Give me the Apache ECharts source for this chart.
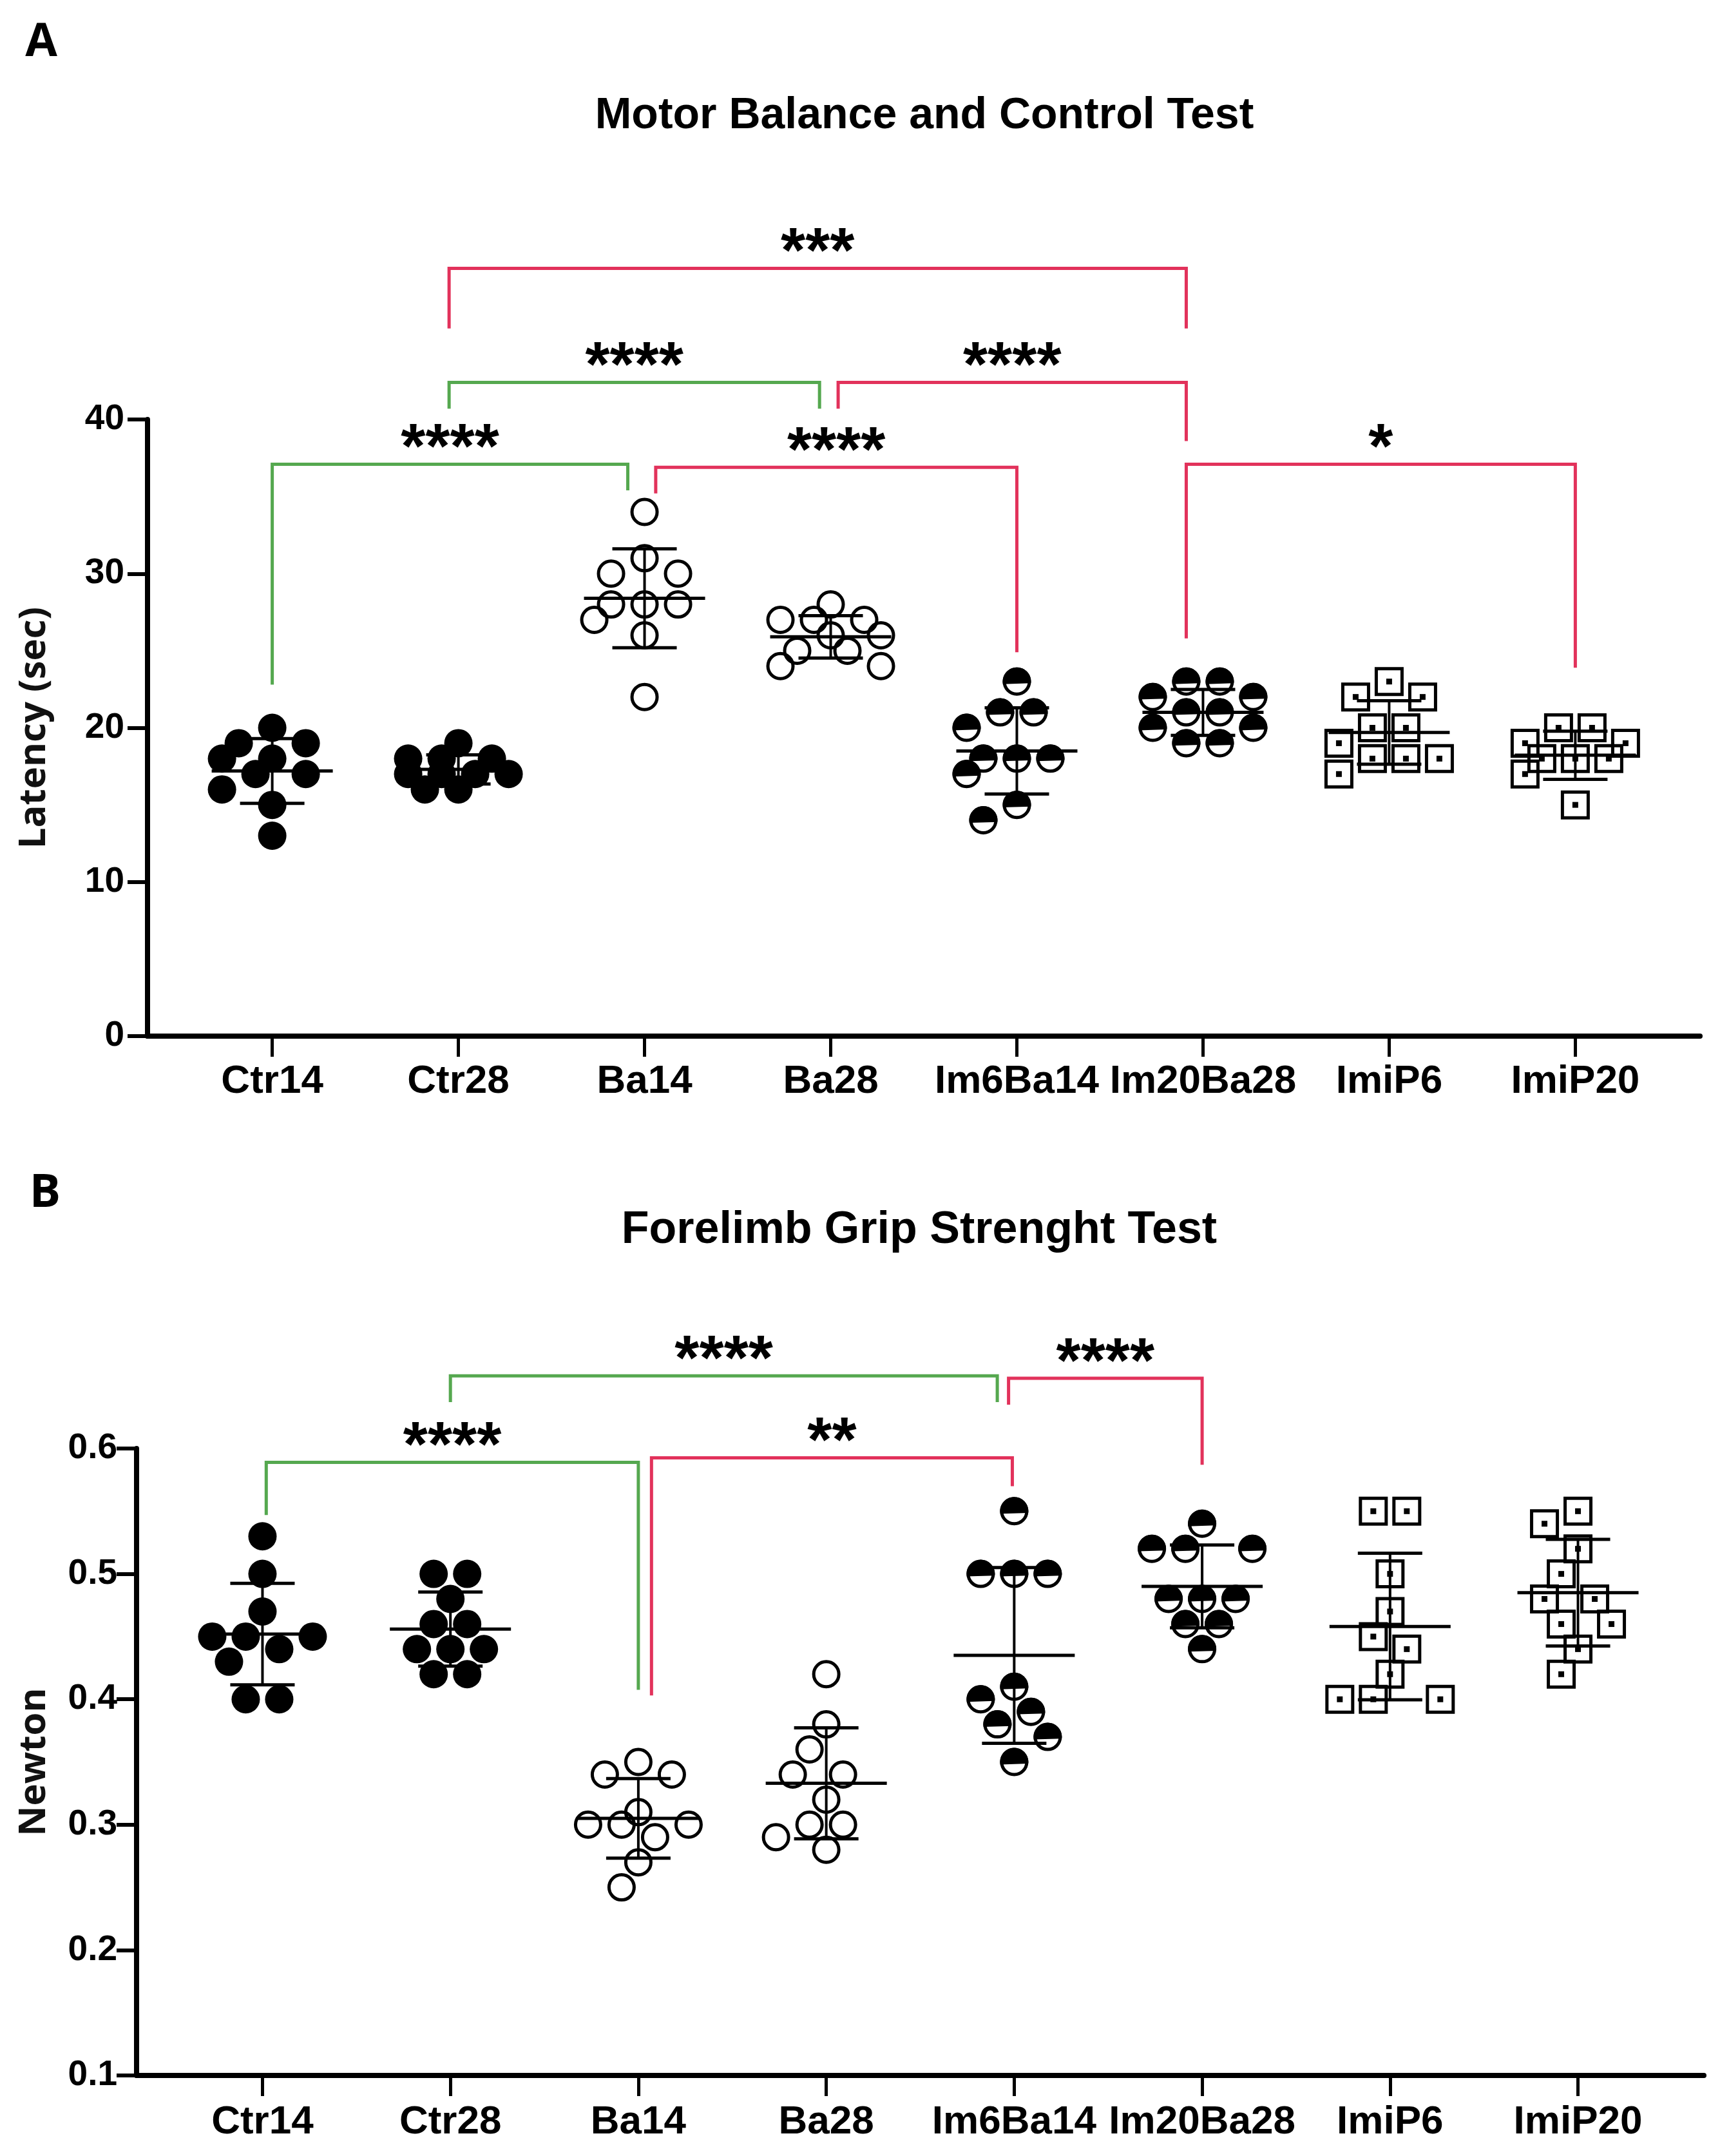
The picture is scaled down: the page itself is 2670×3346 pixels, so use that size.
<!DOCTYPE html>
<html>
<head>
<meta charset="utf-8">
<script src="https://cdn.jsdelivr.net/npm/echarts@6/dist/echarts.min.js"></script>
<style>
html,body{margin:0;padding:0;background:#fff;}
#chart{width:2670px;height:3346px;}
</style>
</head>
<body>
<div id="chart"></div>
<script>
// ---------------- DATA ----------------
const categories = ['Ctr14', 'Ctr28', 'Ba14', 'Ba28', 'Im6Ba14', 'Im20Ba28', 'ImiP6', 'ImiP20'];
const markerKinds = ['filled', 'filled', 'open', 'open', 'half', 'half', 'square', 'square'];

// Panel A: Motor Balance and Control Test, latency (sec)
const ctr14A    = [20, 19, 19, 18, 18, 17, 17, 16, 15, 13];
const ctr28A    = [19, 18, 18, 18, 17, 17, 17, 17, 16, 16];
const ba14A     = [34, 31, 30, 30, 28, 28, 28, 27, 26, 22];
const ba28A     = [28, 27, 27, 27, 26, 26, 25, 25, 24, 24];
const im6ba14A  = [23, 21, 21, 20, 18, 18, 18, 17, 15, 14];
const im20ba28A = [23, 23, 22, 22, 21, 21, 20, 20, 19, 19];
const imip6A    = [23, 22, 22, 20, 20, 19, 18, 18, 18, 17];
const imip20A   = [20, 20, 19, 19, 18, 18, 18, 17, 15];
const latencyTicks = [0, 10, 20, 30, 40];

// Panel B: Forelimb Grip Strenght Test, Newton
const ctr14B    = [0.53, 0.50, 0.47, 0.45, 0.45, 0.45, 0.44, 0.43, 0.40, 0.40];
const ctr28B    = [0.50, 0.50, 0.48, 0.46, 0.46, 0.44, 0.44, 0.44, 0.42, 0.42];
const ba14B     = [0.35, 0.34, 0.34, 0.31, 0.30, 0.30, 0.30, 0.29, 0.27, 0.25];
const ba28B     = [0.42, 0.38, 0.36, 0.34, 0.34, 0.32, 0.30, 0.30, 0.29, 0.28];
const im6ba14B  = [0.55, 0.50, 0.50, 0.50, 0.41, 0.40, 0.39, 0.38, 0.37, 0.35];
const im20ba28B = [0.54, 0.52, 0.52, 0.52, 0.48, 0.48, 0.48, 0.46, 0.46, 0.44];
const imip6B    = [0.55, 0.55, 0.50, 0.47, 0.45, 0.44, 0.42, 0.40, 0.40, 0.40];
const imip20B   = [0.55, 0.54, 0.52, 0.50, 0.48, 0.48, 0.46, 0.46, 0.44, 0.42];
const newtonTicks = [0.1, 0.2, 0.3, 0.4, 0.5, 0.6];

// Significance brackets: [fromX, toX, topY, leftLegEndY, rightLegEndY, label, colour]
const bracketsA = [
  [1.95, 5.91, 49.8, 45.9, 45.9, '***', 'red'],
  [1.95, 3.94, 42.4, 40.7, 40.7, '****', 'green'],
  [4.04, 5.91, 42.4, 40.7, 38.6, '****', 'red'],
  [1.00, 2.91, 37.1, 22.8, 35.4, '****', 'green'],
  [3.06, 5.00, 36.9, 35.2, 24.9, '****', 'red'],
  [5.91, 8.00, 37.1, 25.8, 23.9, '*', 'red']
];
const bracketsB = [
  [2.00, 4.91, 0.658, 0.637, 0.637, '****', 'green'],
  [4.97, 6.00, 0.656, 0.635, 0.587, '****', 'red'],
  [1.02, 3.00, 0.589, 0.547, 0.4075, '****', 'green'],
  [3.07, 4.99, 0.5925, 0.403, 0.570, '**', 'red']
];

// ---------------- LAYOUT / STYLE ----------------
const COLORS = { red: '#e2325b', green: '#55a84f' };
const gridA = { left: 229, right: 31, top: 651, bottom: 1738 };
const gridB = { left: 212, right: 25, top: 2248, bottom: 125 };
const xMin = 0.33, xMax = 8.67;
const pxPerUnitA = (3346 - gridA.top - gridA.bottom) / (latencyTicks[latencyTicks.length - 1] - latencyTicks[0]);
const pxPerUnitB = (3346 - gridB.top - gridB.bottom) / (newtonTicks[newtonTicks.length - 1] - newtonTicks[0]);
const R = 22;

// --------------- helpers ---------------
function mean(a) { return a.reduce((s, v) => s + v, 0) / a.length; }
function sd(a) { const m = mean(a); return Math.sqrt(a.reduce((s, v) => s + (v - m) * (v - m), 0) / (a.length - 1)); }

// row-based dot-plot spreading (horizontal pixel offsets)
function swarmOffsets(vals, ppu) {
  const slots = [-78, -52, -26, 0, 26, 52, 78];
  const uniq = Array.from(new Set(vals)).sort((a, b) => b - a);
  const placed = [];
  const offs = new Array(vals.length).fill(0);
  for (const v of uniq) {
    const idx = [];
    vals.forEach((u, i) => { if (u === v) idx.push(i); });
    const n = idx.length;
    const y = -v * ppu;
    const combos = [];
    (function rec(start, cur) {
      if (cur.length === n) { combos.push(cur.slice()); return; }
      for (let k = start; k < slots.length; k++) {
        if (cur.length && slots[k] - cur[cur.length - 1] < 48) continue;
        cur.push(slots[k]); rec(k + 1, cur); cur.pop();
      }
    })(0, []);
    let best = null, bestCost = Infinity;
    for (const c of combos) {
      let cost = 0;
      for (const x of c) {
        for (const p of placed) {
          const d = Math.hypot(x - p.x, y - p.y);
          if (d < 48) cost += (48 - d) * (48 - d);
        }
        cost += 0.3 * Math.abs(x);
      }
      cost += 0.3 * Math.abs(c.reduce((s, x) => s + x, 0));
      if (cost < bestCost) { bestCost = cost; best = c; }
    }
    if (!best) best = idx.map((_, i) => (i - (n - 1) / 2) * 40);
    best.forEach((x, i) => { offs[idx[i]] = x; placed.push({ x: x, y: y }); });
  }
  return offs;
}

function buildPoints(groups, ppu) {
  const out = [];
  groups.forEach((vals, g) => {
    const offs = swarmOffsets(vals, ppu);
    vals.forEach((v, i) => out.push([g + 1, v, offs[i], g]));
  });
  return out;
}
function buildStats(groups) {
  return groups.map((vals, g) => [g + 1, mean(vals), sd(vals)]);
}

const groupsA = [ctr14A, ctr28A, ba14A, ba28A, im6ba14A, im20ba28A, imip6A, imip20A];
const groupsB = [ctr14B, ctr28B, ba14B, ba28B, im6ba14B, im20ba28B, imip6B, imip20B];

// --------------- renderers ---------------
function renderPoint(params, api) {
  const c = api.coord([api.value(0), api.value(1)]);
  const cx = c[0] + api.value(2), cy = c[1];
  const kind = markerKinds[api.value(3)];
  if (kind === 'filled') {
    return { type: 'circle', shape: { cx: cx, cy: cy, r: R }, style: { fill: '#000' } };
  }
  if (kind === 'open') {
    return { type: 'circle', shape: { cx: cx, cy: cy, r: R - 2.5 }, style: { fill: 'none', stroke: '#000', lineWidth: 5 } };
  }
  if (kind === 'half') {
    const pts = [];
    const beta = 0.18;
    for (let t = Math.PI - beta; t <= 2 * Math.PI + beta + 1e-6; t += 0.08) {
      pts.push([cx + R * Math.cos(t), cy + R * Math.sin(t)]);
    }
    return {
      type: 'group', children: [
        { type: 'circle', shape: { cx: cx, cy: cy, r: R - 2.5 }, style: { fill: 'none', stroke: '#000', lineWidth: 5 } },
        { type: 'polygon', shape: { points: pts }, style: { fill: '#000' } }
      ]
    };
  }
  // square with centre dot
  const s = 40;
  return {
    type: 'group', children: [
      { type: 'rect', shape: { x: cx - s / 2, y: cy - s / 2, width: s, height: s }, style: { fill: 'none', stroke: '#000', lineWidth: 5 } },
      { type: 'rect', shape: { x: cx - 4.5, y: cy - 4.5, width: 9, height: 9 }, style: { fill: '#000' } }
    ]
  };
}

function renderErr(params, api) {
  const x = api.value(0), m = api.value(1), s = api.value(2);
  const pm = api.coord([x, m]);
  const pt = api.coord([x, m + s]);
  const pb = api.coord([x, m - s]);
  const st = { stroke: '#000', lineWidth: 5 };
  return {
    type: 'group', children: [
      { type: 'line', shape: { x1: pm[0] - 94, y1: pm[1], x2: pm[0] + 94, y2: pm[1] }, style: st },
      { type: 'line', shape: { x1: pt[0] - 50, y1: pt[1], x2: pt[0] + 50, y2: pt[1] }, style: st },
      { type: 'line', shape: { x1: pb[0] - 50, y1: pb[1], x2: pb[0] + 50, y2: pb[1] }, style: st },
      { type: 'line', shape: { x1: pt[0], y1: pt[1], x2: pb[0], y2: pb[1] }, style: { stroke: '#000', lineWidth: 4 } }
    ]
  };
}

function makeBracketRenderer(list) {
  return function (params, api) {
    const b = list[params.dataIndex];
    const a1 = api.coord([b[0], b[3]]);
    const t1 = api.coord([b[0], b[2]]);
    const t2 = api.coord([b[1], b[2]]);
    const a2 = api.coord([b[1], b[4]]);
    const fs = 98;
    return {
      type: 'group', children: [
        { type: 'polyline', shape: { points: [a1, t1, t2, a2] }, style: { stroke: COLORS[b[6]], lineWidth: 5, fill: 'none' } },
        { type: 'text', style: { text: b[5], x: (t1[0] + t2[0]) / 2, y: t1[1] - 48 + 0.27 * fs, textAlign: 'center', textVerticalAlign: 'middle', fontSize: fs, fontWeight: 'bold', fontFamily: 'Liberation Sans', fill: '#000' } }
      ]
    };
  };
}

function xAxisCfg(gridIndex, labelMargin) {
  return {
    type: 'value', gridIndex: gridIndex, min: xMin, max: xMax,
    axisLine: { show: true, onZero: false, lineStyle: { color: '#000', width: 8 } },
    axisTick: { show: true, customValues: [1, 2, 3, 4, 5, 6, 7, 8], length: 32, lineStyle: { color: '#000', width: 5 } },
    axisLabel: {
      customValues: [1, 2, 3, 4, 5, 6, 7, 8], margin: labelMargin,
      formatter: v => categories[Math.round(v) - 1] || '',
      color: '#000', fontSize: 62, fontWeight: 'bold', fontFamily: 'Liberation Sans'
    },
    splitLine: { show: false }
  };
}
function yAxisCfg(gridIndex, ticks, name, nameGap, labelMargin, fmt) {
  return {
    type: 'value', gridIndex: gridIndex,
    min: ticks[0], max: ticks[ticks.length - 1], interval: ticks[1] - ticks[0],
    name: name, nameLocation: 'middle', nameRotate: 90, nameGap: nameGap,
    nameTextStyle: { color: '#111', fontSize: 58, fontWeight: 'bold', fontFamily: 'Open Sans' },
    axisLine: { show: true, onZero: false, lineStyle: { color: '#000', width: 8 } },
    axisTick: { show: true, length: 31, lineStyle: { color: '#000', width: 6 } },
    axisLabel: { margin: labelMargin, color: '#000', fontSize: 55, fontWeight: 'bold', fontFamily: 'Liberation Sans', formatter: fmt },
    splitLine: { show: false }
  };
}

const chart = echarts.init(document.getElementById('chart'), null, { renderer: 'canvas', width: 2670, height: 3346 });

const option = {
  backgroundColor: '#fff',
  animation: false,
  grid: [
    Object.assign({ containLabel: false, outerBoundsMode: 'none' }, gridA),
    Object.assign({ containLabel: false, outerBoundsMode: 'none' }, gridB)
  ],
  xAxis: [xAxisCfg(0, 40), xAxisCfg(1, 42)],
  yAxis: [
    yAxisCfg(0, latencyTicks, 'Latency (sec)', 147, 36, v => String(v)),
    yAxisCfg(1, newtonTicks, 'Newton', 130, 30, v => v.toFixed(1))
  ],
  graphic: [
    { type: 'text', x: 64, y: 66, style: { text: 'A', fontSize: 72, fontWeight: 'bold', fontFamily: 'Open Sans', fill: '#000', textAlign: 'center', textVerticalAlign: 'middle' } },
    { type: 'text', x: 70, y: 1852, style: { text: 'B', fontSize: 72, fontWeight: 'bold', fontFamily: 'Open Sans', fill: '#000', textAlign: 'center', textVerticalAlign: 'middle' } },
    { type: 'text', x: 1435, y: 180, style: { text: 'Motor Balance and Control Test', fontSize: 68, fontWeight: 'bold', fontFamily: 'Liberation Sans', fill: '#000', textAlign: 'center', textVerticalAlign: 'middle' } },
    { type: 'text', x: 1427, y: 1910, style: { text: 'Forelimb Grip Strenght Test', fontSize: 70, fontWeight: 'bold', fontFamily: 'Liberation Sans', fill: '#000', textAlign: 'center', textVerticalAlign: 'middle' } }
  ],
  series: [
    { type: 'custom', xAxisIndex: 0, yAxisIndex: 0, renderItem: renderPoint, data: buildPoints(groupsA, pxPerUnitA), encode: { x: 0, y: 1 }, clip: false, silent: true, z: 3 },
    { type: 'custom', xAxisIndex: 0, yAxisIndex: 0, renderItem: renderErr, data: buildStats(groupsA), encode: { x: 0, y: 1 }, clip: false, silent: true, z: 4 },
    { type: 'custom', xAxisIndex: 0, yAxisIndex: 0, renderItem: makeBracketRenderer(bracketsA), data: bracketsA.map(b => [b[0], b[2]]), encode: { x: 0, y: 1 }, clip: false, silent: true, z: 5 },
    { type: 'custom', xAxisIndex: 1, yAxisIndex: 1, renderItem: renderPoint, data: buildPoints(groupsB, pxPerUnitB), encode: { x: 0, y: 1 }, clip: false, silent: true, z: 3 },
    { type: 'custom', xAxisIndex: 1, yAxisIndex: 1, renderItem: renderErr, data: buildStats(groupsB), encode: { x: 0, y: 1 }, clip: false, silent: true, z: 4 },
    { type: 'custom', xAxisIndex: 1, yAxisIndex: 1, renderItem: makeBracketRenderer(bracketsB), data: bracketsB.map(b => [b[0], b[2]]), encode: { x: 0, y: 1 }, clip: false, silent: true, z: 5 }
  ]
};
chart.setOption(option);
</script>
</body>
</html>
